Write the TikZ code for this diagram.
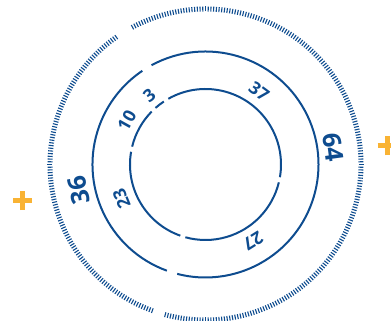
\documentclass[tikz,border=0pt]{standalone}
\usepackage{fontspec}
\setmainfont{Open Sans}
\usepackage{xcolor}
\definecolor{deepblue}{HTML}{0E4C8F}
\definecolor{softyellow}{HTML}{F9B334}

\begin{document}
\begin{tikzpicture}[x=1pt,y=1pt]
\tikzstyle{ring}=[draw=deepblue,line width=2pt]
\tikzstyle{tick}=[draw=deepblue,line width=1.1pt]
\tikzstyle{lbl}=[text=deepblue,inner sep=0pt,font=\bfseries\fontsize{17.5}{17.5}\selectfont]
\tikzstyle{biglbl}=[lbl,font=\bfseries\fontsize{25}{25}\selectfont]
\tikzstyle{plus}=[draw=softyellow,line width=5pt]
\useasboundingbox (-205.5,-156.5) rectangle (185.5,164.5);
\coordinate (c) at (0,0);
\foreach \s/\e in {119.5/-9.7,-13.7/-105.5,-109.5/-189.7,-193.7/-224.5,-228.5/-236.5}
  \draw[ring] (c) ++(\s:75.5) arc[start angle=\s,end angle=\e,radius=75.5];
\foreach \s/\e in {118.5/-104.5,-110/-236}
  \draw[ring] (c) ++(\s:113) arc[start angle=\s,end angle=\e,radius=113];
\foreach \a in {-105,...,118} \draw[tick] (c) ++(\a:153) -- ++(\a:5);
\foreach \a in {125,...,250} \draw[tick] (c) ++(\a:153) -- ++(\a:5);
\node[lbl,rotate=39] (n3) at (129:89.4) {3};
\node[lbl,rotate=61] (n10) at (151:90) {10};
\node[lbl,rotate=112] (n23) at (202:90.4) {23};
\node[lbl,rotate=-36.4] (n37) at (53.6:90.5) {37};
\node[lbl,rotate=-147.9] (n27) at (-57.9:90) {27};
\node[biglbl,rotate=-82.2] (n64) at (7.8:128.7) {64};
\node[biglbl,rotate=101.4] (n36) at (191.4:128.8) {36};
\coordinate (pl) at (-182.8,-36.2);
\coordinate (pr) at (181.5,18.5);
\foreach \p in {pl,pr} {
  \draw[plus] (\p) ++(-9.5,0) -- ++(19,0);
  \draw[plus] (\p) ++(0,-9.5) -- ++(0,19);
}
\end{tikzpicture}
\end{document}
